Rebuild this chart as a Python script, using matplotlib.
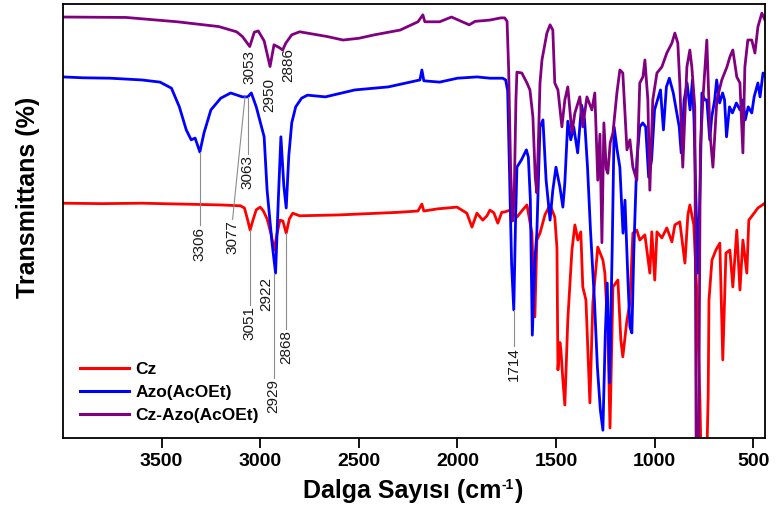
import matplotlib
matplotlib.use("Agg")
import matplotlib.pyplot as plt
from matplotlib.transforms import IdentityTransform

plt.rcParams["font.family"] = ["Liberation Sans", "DejaVu Sans"]

# FTIR spektrumlari (dalga sayisi cm-1, transmittans %)
cz_wn = [4000, 3800, 3600, 3400, 3200, 3100, 3080, 3065, 3051, 3038, 3020, 3000, 2985, 2965, 2945, 2929,
         2915, 2900, 2885, 2868, 2852, 2835, 2800, 2700, 2600, 2500, 2400, 2300, 2200, 2180, 2170, 2100,
         2002, 1952, 1926, 1901, 1871, 1850, 1835, 1815, 1795, 1775, 1759, 1733, 1698, 1670, 1647, 1622,
         1607, 1597, 1581, 1556, 1530, 1506, 1495, 1490, 1480, 1475, 1465, 1455, 1440, 1419, 1404, 1389,
         1374, 1364, 1348, 1328, 1313, 1288, 1262, 1252, 1237, 1226, 1211, 1186, 1171, 1161, 1140, 1125,
         1110, 1090, 1075, 1049, 1024, 1014, 999, 988, 963, 938, 912, 897, 872, 846, 831, 821, 801, 786,
         770, 760, 740, 728, 724, 709, 689, 669, 654, 638, 618, 603, 583, 567, 552, 532, 522, 502, 476, 440]
cz_t = [54.1, 54.0, 54.1, 53.9, 53.7, 53.5, 53.0, 50.5, 47.9, 50.0, 52.6, 53.2, 52.4, 50.5, 47.0, 43.3,
        47.0, 50.2, 50.0, 47.2, 50.5, 51.8, 51.2, 51.3, 51.4, 51.6, 51.8, 52.0, 52.3, 53.9, 52.3, 52.8,
        53.2, 51.8, 48.6, 51.8, 50.2, 51.2, 52.5, 51.9, 49.5, 52.0, 52.1, 52.5, 50.9, 52.5, 53.7, 47.2,
        27.9, 45.6, 47.2, 51.4, 53.7, 50.9, 43.8, 15.7, 22.0, 20.3, 13.4, 7.6, 27.2, 43.3, 49.1, 45.6,
        47.5, 34.8, 31.8, 8.1, 31.1, 44.0, 41.0, 38.0, 24.9, 2.3, 34.8, 36.4, 22.6, 18.7, 27.2, 31.1,
        47.2, 47.9, 45.6, 46.8, 38.0, 47.5, 36.4, 47.5, 46.1, 48.4, 45.2, 49.1, 49.8, 40.3, 51.4, 53.7, 49.1, 34.1,
        8.8, -15, -15, 10.0, 31.8, 41.0, 43.3, 44.9, 18.0, 42.6, 43.3, 34.8, 47.9, 34.1, 45.6, 38.0, 50.2, 51.4, 53.0, 54.1]

azo_wn = [4000, 3900, 3760, 3600, 3508, 3450, 3410, 3375, 3350, 3330, 3306, 3285, 3250, 3200, 3150, 3090,
          3063, 3045, 3020, 3005, 2980, 2965, 2940, 2922, 2908, 2895, 2880, 2868, 2855, 2840, 2820, 2790,
          2760, 2670, 2520, 2350, 2190, 2180, 2170, 2090, 2000, 1900, 1835, 1770, 1755, 1745, 1735, 1725,
          1714, 1705, 1698, 1675, 1650, 1640, 1630, 1620, 1607, 1597, 1581, 1566, 1550, 1530, 1516, 1500,
          1480, 1465, 1455, 1440, 1425, 1410, 1390, 1370, 1355, 1340, 1325, 1305, 1290, 1275, 1262, 1250,
          1240, 1228, 1215, 1205, 1190, 1176, 1160, 1150, 1135, 1125, 1115, 1105, 1090, 1075, 1060, 1045,
          1030, 1015, 1000, 985, 970, 955, 940, 925, 905, 890, 875, 865, 850, 835, 820, 808, 800, 790,
          780, 768, 760, 745, 735, 720, 710, 695, 685, 670, 655, 645, 635, 620, 605, 585, 567, 552,
          540, 525, 507, 495, 476, 465, 450, 440]
azo_t = [83.2, 83.0, 82.9, 82.5, 82.0, 80.6, 76.3, 71.0, 68.7, 69.1, 65.9, 70.3, 75.6, 78.3, 79.5, 78.6,
         78.6, 79.5, 76.3, 73.7, 69.4, 57.1, 45.0, 38.0, 55.0, 69.4, 58.0, 53.0, 65.0, 72.6, 76.3, 78.3,
         79.0, 78.6, 80.2, 80.9, 82.5, 84.8, 82.3, 82.0, 82.9, 83.2, 82.9, 82.9, 82.5, 80.0, 60.0, 40.0,
         29.5, 50.0, 62.4, 64.1, 66.4, 64.7, 55.0, 23.7, 41.0, 47.2, 71.7, 73.3, 59.4, 50.2, 57.1, 62.4,
         57.8, 53.2, 58.8, 73.0, 68.7, 71.7, 65.7, 76.7, 73.3, 62.4, 47.9, 31.8, 16.4, 6.5, 1.8, 23.7,
         35.7, 12.7, 43.3, 71.7, 66.4, 62.4, 47.2, 54.8, 36.4, 25.6, 24.2, 43.3, 64.1, 71.7, 72.6, 71.7,
         60.1, 64.1, 75.6, 77.9, 80.2, 71.0, 80.9, 82.9, 79.5, 75.6, 71.7, 65.7, 77.9, 81.8, 75.6, 82.5, 73.3, 54.8,
         38.0, 60.0, 79.5, 77.9, 77.9, 68.7, 74.0, 77.9, 82.5, 77.2, 79.5, 77.9, 69.4, 76.3, 74.9, 77.2, 75.6, 77.9,
         73.3, 76.3, 74.9, 78.6, 81.8, 78.6, 84.1, 83.6]

czazo_wn = [4000, 3680, 3420, 3210, 3120, 3090, 3053, 3030, 3010, 2980, 2950, 2930, 2905, 2886, 2870, 2840,
            2800, 2660, 2580, 2500, 2420, 2290, 2200, 2175, 2165, 2090, 2030, 1940, 1910, 1835, 1780, 1760,
            1748, 1740, 1730, 1720, 1712, 1703, 1698, 1673, 1647, 1632, 1617, 1605, 1597, 1588, 1581, 1571,
            1546, 1530, 1516, 1506, 1490, 1470, 1455, 1440, 1419, 1404, 1379, 1364, 1343, 1318, 1303, 1288,
            1277, 1267, 1257, 1245, 1237, 1225, 1211, 1191, 1176, 1161, 1140, 1125, 1110, 1090, 1075, 1059,
            1049, 1034, 1024, 1009, 988, 963, 938, 912, 897, 882, 872, 857, 836, 821, 811, 796, 788, 778,
            768, 755, 735, 719, 704, 684, 659, 633, 618, 603, 583, 567, 552, 542, 527, 507, 491, 476, 456, 440]
czazo_t = [97.0, 96.9, 95.9, 94.8, 93.6, 92.5, 90.2, 93.5, 93.8, 91.5, 85.6, 90.6, 90.0, 89.4, 91.0, 92.9,
           93.6, 92.5, 91.7, 92.1, 92.9, 94.0, 95.9, 97.5, 95.9, 95.9, 97.0, 95.2, 96.0, 96.3, 96.8, 96.8,
           96.0, 85.0, 62.0, 50.0, 55.0, 78.0, 84.3, 84.1, 81.8, 80.2, 74.0, 60.0, 56.5, 70.0, 81.8, 87.1,
           93.3, 95.2, 94.0, 81.8, 80.2, 71.7, 77.9, 80.9, 70.3, 74.9, 78.6, 71.7, 78.6, 75.6, 79.5, 59.4,
           70.0, 45.0, 72.6, 62.0, 61.0, 68.0, 70.3, 79.5, 84.8, 84.1, 66.4, 68.7, 62.4, 59.4, 81.8, 83.2,
           87.1, 77.9, 57.1, 77.9, 84.1, 85.5, 88.7, 91.0, 93.3, 91.0, 81.8, 62.4, 85.5, 89.4, 85.5, 76.3, -15, -15,
           66.4, 77.9, 91.7, 70.3, 62.4, 77.9, 82.5, 85.5, 87.8, 89.4, 83.2, 81.8, 65.7, 85.5, 91.7, 91.7, 88.7, 94.7, 97.9, 96.3]

series_names = ["Cz", "Azo(AcOEt)", "Cz-Azo(AcOEt)"]
series_colors = ["#ff0000", "#0000ff", "#800080"]

# pik etiketleri: (etiket, cizgi x, cizgi y1, cizgi y2, yazi x, yazi y)
peaks = [
    ("3053", None, None, None, 3053, 89.4),
    ("2950", None, None, None, 2955, 83.0),
    ("2886", None, None, None, 2858, 89.9),
    ("3306", 3306, 65.9, 49.1, 3310, 48.6),
    ("3063", 3063, 78.6, 65.5, 3063, 65.3),
    ("3077", 3077, 78.6, 50.4, 3140, 50.2),
    ("3051", 3051, 47.9, 30.6, 3052, 30.3),
    ("2922", None, None, None, 2968, 37.1),
    ("2929", 2929, 38.0, 13.8, 2935, 13.5),
    ("2868", 2868, 47.2, 25.0, 2869, 24.8),
    ("1714", 1714, 29.5, 21.2, 1712, 21.0),
]

fig = plt.figure(figsize=(7.76, 5.13), dpi=100)
ax = fig.add_axes([0.0812, 0.1462, 0.9046, 0.846])

for wn, t, name, c in zip([cz_wn, azo_wn, czazo_wn], [cz_t, azo_t, czazo_t], series_names, series_colors):
    ax.plot(wn, t, color=c, lw=2.0, label=name)

for lab, lx, y1, y2, tx, ty in peaks:
    if lx is not None:
        if lab == "3077":
            ax.plot([lx, tx], [y1, y2], color="#8c8c8c", lw=0.8)
        else:
            ax.plot([lx, lx], [y1, y2], color="#8c8c8c", lw=0.8)
    ax.text(tx, ty, lab, rotation=90, ha="center", va="top", fontsize=11, color="#1a1a1a")

ax.set_xlim(4000, 440)
ax.set_ylim(0, 100)
ax.set_xticks([3500, 3000, 2500, 2000, 1500, 1000, 500])
ax.set_yticks([])
ax.tick_params(axis="x", direction="out", length=7, width=1.3, labelsize=14, pad=4)
for lbl in ax.get_xticklabels():
    lbl.set_fontweight("bold")
for s in ax.spines.values():
    s.set_linewidth(1.3)

leg = ax.legend(loc="lower left", bbox_to_anchor=(0.012, 0.015), frameon=False,
                handlelength=2.8, handletextpad=0.4, labelspacing=0.45, borderpad=0,
                prop={"weight": "bold", "size": 12.5})
for line in leg.get_lines():
    line.set_linewidth(2.2)

fig.text(28 / 776, 1 - 197 / 513, "Transmittans (%)", rotation=90, ha="center", va="center",
         fontsize=18, fontweight="bold")

# x ekseni basligi: ust simge icin uc parca (piksel koordinatlari)
px = IdentityTransform()
xl = fig.text(402 / 776, 1 - 491 / 513, "Dalga Sayısı (cm", ha="center", va="center",
              fontsize=18, fontweight="bold")
fig.canvas.draw()
bb = xl.get_window_extent()
sup = fig.text(bb.x1 + 0.5, bb.y1 + 1, "-1", ha="left", va="top", fontsize=10, fontweight="bold",
               transform=px)
fig.canvas.draw()
bb2 = sup.get_window_extent()
fig.text(bb2.x1 + 1, (bb.y0 + bb.y1) / 2, ")", ha="left", va="center", fontsize=18, fontweight="bold",
         transform=px)

fig.savefig("out.png", dpi=100)
